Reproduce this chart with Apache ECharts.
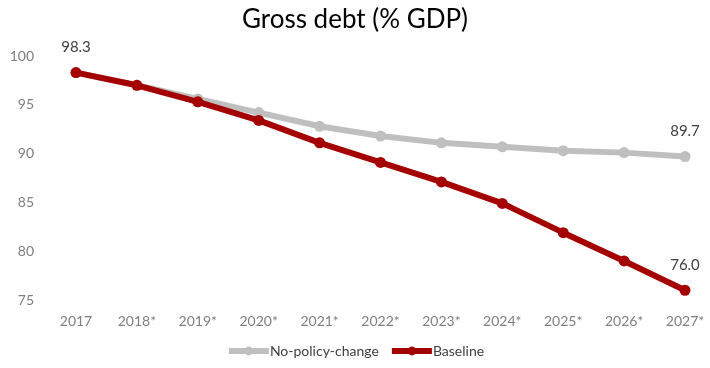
<!DOCTYPE html>
<html>
<head>
<meta charset="utf-8">
<script src="https://cdn.jsdelivr.net/npm/echarts@6/dist/echarts.min.js"></script>
<style>
  html, body { margin: 0; padding: 0; background: #fff; }
  #chart { width: 710px; height: 368px; }
</style>
</head>
<body>
<div id="chart"></div>
<script>
// 数据
var years = ['2017', '2018*', '2019*', '2020*', '2021*', '2022*', '2023*', '2024*', '2025*', '2026*', '2027*']
var noPolicyChange = [98.3, 97.0, 95.6, 94.2, 92.8, 91.8, 91.1, 90.7, 90.3, 90.1, 89.7]
var baseline = [98.3, 97.0, 95.3, 93.4, 91.1, 89.1, 87.1, 84.9, 81.9, 79.0, 76.0]
var yTicks = [75, 80, 85, 90, 95, 100]

var font = 'Lato, "Noto Sans", sans-serif'

// 只在指定的点显示数值
function withLabels(values, showIdx) {
  return values.map(function (v, i) {
    if (showIdx.indexOf(i) < 0) return v
    return {
      value: v,
      label: {
        show: true,
        position: 'top',
        distance: 12,
        formatter: function (p) { return p.value.toFixed(1) },
        color: '#404040',
        fontSize: 15,
        fontFamily: font,
      },
    }
  })
}

var chart = echarts.init(document.getElementById('chart'))
var option = {
  animation: false,
  title: {
    text: 'Gross debt (% GDP)',
    left: 'center',
    top: 2,
    textStyle: {
      color: '#000',
      fontSize: 26,
      fontWeight: 'normal',
      fontFamily: font,
    },
  },
  legend: {
    bottom: 5,
    left: 'center',
    itemWidth: 40,
    itemHeight: 11,
    itemGap: 10,
    lineStyle: { width: 6 },
    textStyle: { color: '#404040', fontSize: 14, fontFamily: font, padding: [0, 0, 0, -4] },
    data: ['No-policy-change', 'Baseline'],
  },
  grid: {
    top: 56,
    bottom: 68,
    left: 76,
    right: 25,
    containLabel: false,
  },
  xAxis: {
    type: 'category',
    boundaryGap: false,
    data: years,
    axisLine: { show: false },
    axisTick: { show: false },
    axisLabel: {
      color: '#7f7f7f',
      fontSize: 14,
      fontFamily: font,
      margin: 14,
      interval: 0,
    },
  },
  yAxis: {
    type: 'value',
    min: yTicks[0],
    max: yTicks[yTicks.length - 1],
    interval: 5,
    splitLine: { show: false },
    axisLine: { show: false },
    axisTick: { show: false },
    axisLabel: {
      color: '#7f7f7f',
      fontSize: 14,
      fontFamily: font,
      margin: 42,
    },
  },
  series: [
    {
      name: 'No-policy-change',
      type: 'line',
      data: withLabels(noPolicyChange, [noPolicyChange.length - 1]),
      symbol: 'circle',
      symbolSize: 11,
      lineStyle: { width: 6, color: '#bfbfbf' },
      itemStyle: { color: '#bfbfbf' },
      z: 2,
    },
    {
      name: 'Baseline',
      type: 'line',
      data: withLabels(baseline, [0, baseline.length - 1]),
      symbol: 'circle',
      symbolSize: 11,
      lineStyle: { width: 6, color: '#a50000' },
      itemStyle: { color: '#a50000' },
      z: 3,
    },
  ],
}
chart.setOption(option)
</script>
</body>
</html>
